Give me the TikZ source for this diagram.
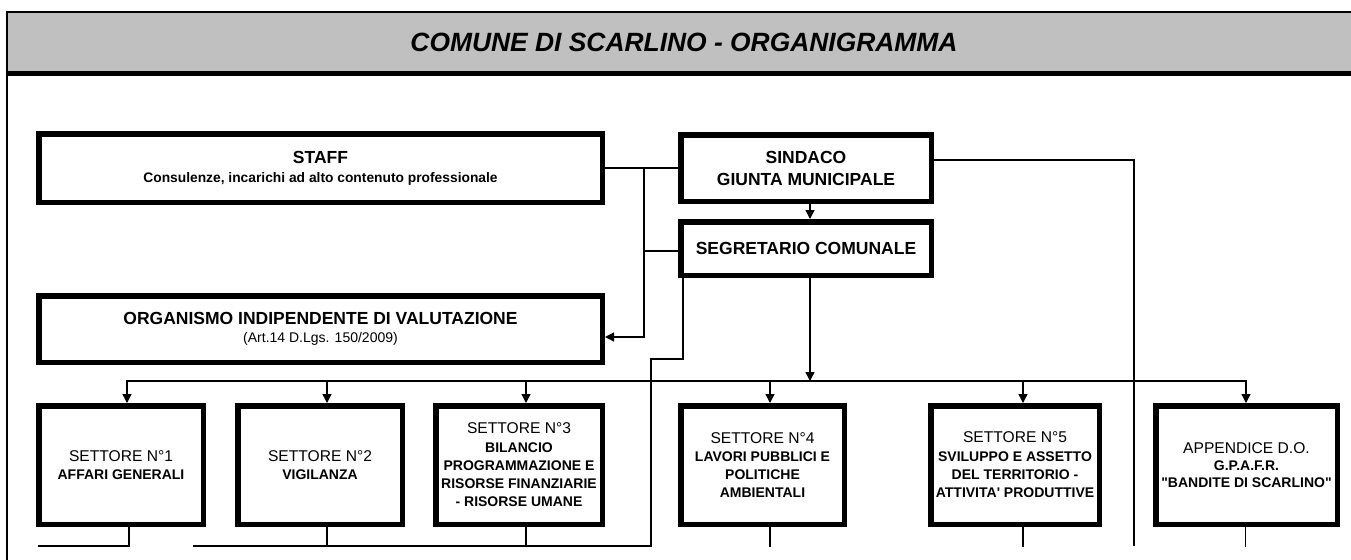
\documentclass[tikz,border=0pt]{standalone}
\usepackage{fontspec}
\usetikzlibrary{arrows.meta}
\newfontfamily\af{Liberation Sans}
\newcommand\ftitle{\fontsize{13.2pt}{15pt}\selectfont\bfseries\itshape}
\newcommand\fhead{\fontsize{8.75pt}{11pt}\selectfont\bfseries}
\newcommand\fstaffsub{\fontsize{6.9pt}{9.5pt}\selectfont\bfseries}
\newcommand\fart{\fontsize{7pt}{11pt}\selectfont\mdseries}
\newcommand\fset{\fontsize{7.8pt}{9.15pt}\selectfont\mdseries}
\newcommand\fbold{\fontsize{7pt}{9.15pt}\selectfont\bfseries}
\tikzset{
  box/.style={draw, line width=2.75pt, inner sep=0pt, align=center, fill=white, font=\af},
  ln/.style={line width=0.65pt},
  arr/.style={-{Triangle[length=4.5pt,width=4.5pt]}},
}
\begin{document}
\begin{tikzpicture}[x=0.5pt,y=-0.5pt]
\useasboundingbox (0,0) rectangle (1351,559);
\fill[white] (0,0) rectangle (1351,559);
% frame and title band
\fill[fill={rgb,255:red,192;green,192;blue,192}] (7,12) rectangle (1360,73.5);
\draw[line width=1.25pt] (1360,12) -- (7,12) -- (7,73.5);
\draw[line width=2.25pt] (6,73.5) -- (1360,73.5);
\draw[line width=0.65pt] (7,73.5) -- (7,560);
\node[font=\af\ftitle, inner sep=0pt] (title) at (684,42) {COMUNE DI SCARLINO - ORGANIGRAMMA};

% top boxes
\node[box, minimum width=281.75pt, minimum height=34.25pt, font=\af\fontsize{8.75pt}{9.5pt}\selectfont] (staff) at (320.5,168)
  {{\fhead STAFF}\\{\fstaffsub Consulenze, incarichi ad alto contenuto professionale}};
\node[box, minimum width=125.25pt, minimum height=33.25pt, font=\af\fhead] (sind) at (806,168)
  {SINDACO\\GIUNTA MUNICIPALE};
\node[box, minimum width=125.25pt, minimum height=26.75pt, font=\af\fhead] (seg) at (806,248.5)
  {SEGRETARIO COMUNALE};
\node[box, minimum width=281.75pt, minimum height=33.25pt, font=\af\fhead] (oiv) at (320.5,329)
  {\raisebox{-2pt}{ORGANISMO INDIPENDENTE DI VALUTAZIONE}\\{\fart (Art.14 D.Lgs. 150/2009)}};

% sector boxes
\node[box, minimum width=82.25pt, minimum height=59.25pt, font=\af\fbold] (s1) at (121,465)
  {{\fset SETTORE N°1}\\AFFARI GENERALI};
\node[box, minimum width=82.25pt, minimum height=59.25pt, font=\af\fbold] (s2) at (320,465)
  {{\fset SETTORE N°2}\\VIGILANZA};
\node[box, minimum width=83.25pt, minimum height=59.25pt, font=\af\fbold] (s3) at (519,465)
  {{\fset SETTORE N°3}\\BILANCIO\\PROGRAMMAZIONE E\\RISORSE FINANZIARIE\\- RISORSE UMANE};
\node[box, minimum width=81.75pt, minimum height=59.25pt, font=\af\fbold] (s4) at (762.5,465)
  {{\fset SETTORE N°4}\\LAVORI PUBBLICI E\\POLITICHE\\AMBIENTALI};
\node[box, minimum width=84.25pt, minimum height=59.25pt, font=\af\fbold] (s5) at (1015,465)
  {{\fset SETTORE N°5}\\SVILUPPO E ASSETTO\\DEL TERRITORIO -\\ATTIVITA' PRODUTTIVE};
\node[box, minimum width=90.75pt, minimum height=59.25pt, font=\af\fontsize{7pt}{8.6pt}\selectfont\bfseries] (app) at (1246.5,465)
  {{\fset APPENDICE D.O.}\\G.P.A.F.R.\\"BANDITE DI SCARLINO"};

% coordinates
\coordinate (v1) at (644,168);
\coordinate (v2) at (644,337);
\coordinate (v3) at (644,251);
\coordinate (sx) at (810,381);
\coordinate (r1) at (1134,160);
\coordinate (r2) at (1134,546);
\coordinate (p1) at (683,359);
\coordinate (p2) at (651,359);
\coordinate (p3) at (651,546);
\coordinate (p4) at (193,546);
\coordinate (b1) at (127,381);
\coordinate (b2) at (327,381);
\coordinate (b3) at (526,381);
\coordinate (b4) at (770,381);
\coordinate (b5) at (1023,381);
\coordinate (b6) at (1246,381);
\coordinate (d1) at (129,546);
\coordinate (d0) at (38,546);
\coordinate (d2) at (327,546);
\coordinate (d3) at (526,546);
\coordinate (d4) at (770,547);
\coordinate (d5) at (1023,547);
\coordinate (d6) at (1245.5,547);

% connectors
\draw[ln] (staff.east) -- (sind.west);
\draw[ln,arr] (v1) -- (v2) -- (v2 -| oiv.east);
\draw[ln] (v3) -- (v3 -| seg.west);
\draw[ln,arr] (sind.south -| sx) -- (seg.north -| sx);
\draw[ln,arr] (seg.south -| sx) -- (sx);
\draw[ln] (r1 -| sind.east) -- (r1) -- (r2);
\draw[ln] (p1 |- seg.south) -- (p1) -- (p2) -- (p3) -- (p4);
\draw[ln] (b2) -- (b5);
\draw[ln,arr] (b2) -- (b1) -- (b1 |- s1.north);
\draw[ln,arr] (b5) -- (b6) -- (b6 |- app.north);
\draw[ln,arr] (b2) -- (b2 |- s2.north);
\draw[ln,arr] (b3) -- (b3 |- s3.north);
\draw[ln,arr] (b4) -- (b4 |- s4.north);
\draw[ln,arr] (b5) -- (b5 |- s5.north);
\draw[ln] (d1 |- s1.south) -- (d1) -- (d0);
\draw[ln] (d2 |- s2.south) -- (d2);
\draw[ln] (d3 |- s3.south) -- (d3);
\draw[ln] (d4 |- s4.south) -- (d4);
\draw[ln] (d5 |- s5.south) -- (d5);
\draw[ln] (d6 |- app.south) -- (d6);
\end{tikzpicture}
\end{document}
